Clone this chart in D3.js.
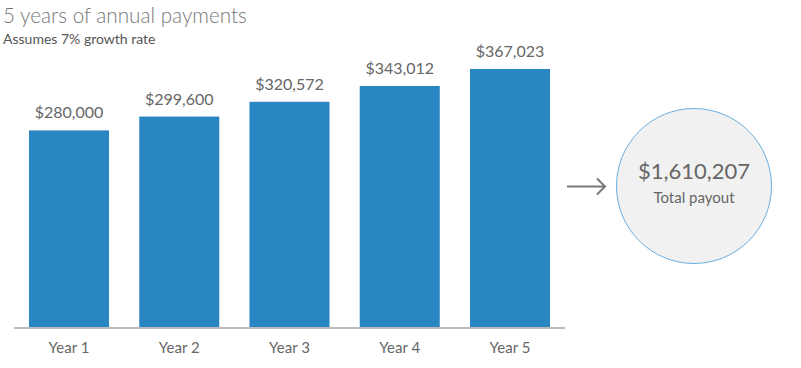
<!DOCTYPE html>
<html>
<head>
<meta charset="utf-8">
<title>5 years of annual payments</title>
<style>
  body { margin: 0; background: #fff; }
  svg text { font-family: Lato, "Open Sans", sans-serif; }
</style>
</head>
<body>
<div id="container"></div>
<script src="https://cdn.jsdelivr.net/npm/d3@7"></script>
<script>
// data
var years = ['Year 1', 'Year 2', 'Year 3', 'Year 4', 'Year 5']
var payments = [280000, 299600, 320572, 343012, 367023]
var total = 1610207

var width = 801, height = 368
var svg = d3.select('#container').append('svg')
    .attr('width', width).attr('height', height)

// title
svg.append('text').attr('x', 3).attr('y', 23)
    .style('font-size', '20.7px').style('fill', '#777').style('font-weight', 300)
    .text('5 years of annual payments')
svg.append('text').attr('x', 3).attr('y', 44)
    .style('font-size', '14px').style('fill', '#555')
    .text('Assumes 7% growth rate')

var x = d3.scaleBand().domain(years).range([14, 565]).paddingInner(0.274).paddingOuter(0.136)
var y = d3.scaleLinear().domain([0, 367023]).range([328, 69])

var fmt = d3.format('$,')

svg.selectAll('rect.bar').data(payments).enter().append('rect')
    .attr('class', 'bar')
    .attr('x', function(d, i) { return x(years[i]) })
    .attr('width', x.bandwidth())
    .attr('y', function(d) { return y(d) })
    .attr('height', function(d) { return y(0) - y(d) })
    .style('fill', '#2a85c3')

svg.selectAll('text.val').data(payments).enter().append('text')
    .attr('class', 'val')
    .attr('x', function(d, i) { return x(years[i]) + x.bandwidth() / 2 })
    .attr('y', function(d) { return y(d) - 12 })
    .attr('text-anchor', 'middle')
    .style('font-size', '16px').style('fill', '#666')
    .text(function(d) { return fmt(d) })

// x axis
var axis = svg.append('g').attr('transform', 'translate(0,' + y(0) + ')')
    .call(d3.axisBottom(x).tickSize(0).tickPadding(14))
axis.select('.domain').attr('d', 'M14,0H565').style('stroke', '#bbb').style('stroke-width', 2)
axis.selectAll('text').style('font-size', '15px').style('fill', '#666')
    .style('font-family', 'Lato, "Open Sans", sans-serif')

// arrow
var ay = 186.5
svg.append('path').attr('d', 'M567,' + ay + 'H605')
    .style('stroke', '#777').style('stroke-width', 2).style('fill', 'none')
svg.append('path').attr('d', 'M597,' + (ay - 8) + 'L605,' + ay + 'L597,' + (ay + 8))
    .style('stroke', '#777').style('stroke-width', 2).style('fill', 'none')

// total circle
var cx = 694, cy = 186
svg.append('circle').attr('cx', cx).attr('cy', cy).attr('r', 77.5)
    .style('fill', '#f0f1f0').style('stroke', '#6aaedf').style('stroke-width', 1)
svg.append('text').attr('x', cx).attr('y', 179).attr('text-anchor', 'middle')
    .style('font-size', '22px').style('fill', '#666')
    .text(fmt(total))
svg.append('text').attr('x', cx).attr('y', 203).attr('text-anchor', 'middle')
    .style('font-size', '15px').style('fill', '#666')
    .text('Total payout')
</script>
</body>
</html>
